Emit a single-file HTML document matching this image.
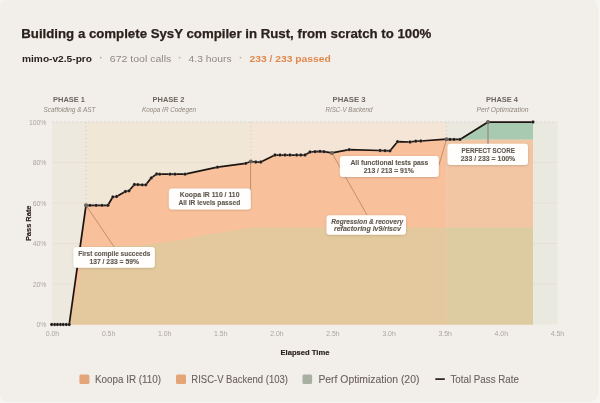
<!DOCTYPE html>
<html><head><meta charset="utf-8"><style>
html,body{margin:0;padding:0;width:600px;height:403px;overflow:hidden;background:#f2efea;}
svg{display:block;font-family:"Liberation Sans", sans-serif;will-change:transform;}
</style></head><body>
<svg width="600" height="403" viewBox="0 0 600 403">
<defs>
<filter id="sh" x="-10%" y="-20%" width="120%" height="150%"><feDropShadow dx="0" dy="0.6" stdDeviation="0.8" flood-color="#000" flood-opacity="0.18"/></filter>
</defs>
<rect x="0" y="0" width="600" height="403" fill="#f7f5f1"/>
<rect x="-0.5" y="-0.5" width="598.5" height="402" rx="8" fill="#f2efea"/>
<line x1="597.6" y1="8" x2="597.6" y2="394" stroke="#ebe7e1" stroke-width="0.8"/>
<!-- title -->
<text x="21.3" y="37.5" font-size="13.2" font-weight="bold" fill="#2b211b" stroke="#2b211b" stroke-width="0.25" textLength="410" lengthAdjust="spacingAndGlyphs">Building a complete SysY compiler in Rust, from scratch to 100%</text>
<text x="22" y="62" font-size="9.9" font-weight="bold" fill="#2b211b" textLength="70" lengthAdjust="spacingAndGlyphs">mimo-v2.5-pro</text>
<circle cx="100.8" cy="57.6" r="0.9" fill="#b5afa7"/>
<text x="109.8" y="62" font-size="9.9" fill="#8f8981" textLength="61.5" lengthAdjust="spacingAndGlyphs">672 tool calls</text>
<circle cx="179.6" cy="57.6" r="0.9" fill="#b5afa7"/>
<text x="188.6" y="62" font-size="9.9" fill="#8f8981" textLength="43" lengthAdjust="spacingAndGlyphs">4.3 hours</text>
<circle cx="240.5" cy="57.6" r="0.9" fill="#b5afa7"/>
<text x="249.5" y="62" font-size="9.9" font-weight="bold" fill="#e0874d" textLength="81.2" lengthAdjust="spacingAndGlyphs">233 / 233 passed</text>

<!-- phase labels -->
<g font-size="6.6" font-weight="bold" fill="#6e655c" text-anchor="middle">
<text x="69" y="102" textLength="32" lengthAdjust="spacingAndGlyphs">PHASE 1</text>
<text x="168.5" y="102" textLength="32" lengthAdjust="spacingAndGlyphs">PHASE 2</text>
<text x="349" y="102" textLength="33" lengthAdjust="spacingAndGlyphs">PHASE 3</text>
<text x="502" y="102" textLength="32" lengthAdjust="spacingAndGlyphs">PHASE 4</text>
</g>
<g font-size="6.3" font-style="italic" fill="#8f877e" text-anchor="middle">
<text x="69.5" y="111.5" textLength="52" lengthAdjust="spacingAndGlyphs">Scaffolding &amp; AST</text>
<text x="169" y="111.5" textLength="54" lengthAdjust="spacingAndGlyphs">Koopa IR Codegen</text>
<text x="349" y="111.5" textLength="47" lengthAdjust="spacingAndGlyphs">RISC-V Backend</text>
<text x="502.5" y="111.5" textLength="52" lengthAdjust="spacingAndGlyphs">Perf Optimization</text>
</g>

<!-- phase bands -->
<rect x="52" y="122" width="34" height="202.5" fill="#eee9de"/>
<rect x="86" y="122" width="165" height="202.5" fill="#f0e7d6"/>
<rect x="251" y="122" width="195.5" height="202.5" fill="#f5e5d6"/>
<rect x="446.5" y="122" width="111" height="202.5" fill="#e9e9e0"/>

<!-- gridlines -->
<g stroke="#e2dcd2" stroke-width="0.6">
<line x1="52" y1="284.0" x2="557.5" y2="284.0"/>
<line x1="52" y1="243.5" x2="557.5" y2="243.5"/>
<line x1="52" y1="203.0" x2="557.5" y2="203.0"/>
<line x1="52" y1="162.5" x2="557.5" y2="162.5"/>
</g>
<line x1="52" y1="122" x2="557.5" y2="122" stroke="#d8d2c8" stroke-width="0.7" stroke-dasharray="2.5,1.5"/>

<!-- phase boundaries -->
<g stroke="#c4bbb0" stroke-width="0.6" stroke-dasharray="1.2,2.8">
<line x1="86" y1="122" x2="86" y2="324.5"/>
<line x1="251" y1="122" x2="251" y2="324.5"/>
<line x1="446.5" y1="122" x2="446.5" y2="324.5"/>
</g>

<!-- areas -->
<clipPath id="cA"><rect x="0" y="0" width="446.5" height="403"/></clipPath>
<clipPath id="cB"><rect x="446.5" y="0" width="200" height="403"/></clipPath>
<g clip-path="url(#cA)">
<path d="M69.2,324.5 L86,205.3 L90,205.3 L96.1,205.3 L102,205.3 L107.9,205.3 L112.9,196.8 L116.6,196.5 L125.4,191.5 L129,190.8 L134.4,184.5 L137.9,184.6 L142.3,184.8 L145.8,184.8 L151.3,177.9 L156.7,174 L159.7,174.2 L170,174.2 L175,174.2 L185,174.2 L217.5,167.2 L245.8,163.3 L250.8,161.5 L255.8,162 L260.8,162 L275,155 L280,155 L285,155 L290,155 L296.7,155 L300.8,155 L305,155 L310,152 L315,151.7 L320,151.3 L324,151.7 L331.9,152.9 L349.2,149.7 L380,150.5 L385,150.7 L390,150.8 L397.5,141.7 L410,142 L415.8,141.2 L420.8,141 L446.5,139.2 L450,139.4 L454,139.4 L460,139.4 L533,139.4 L533,324.5 Z" fill="#f8c09b"/>
<path d="M69.5,324.5 L86,247 L140,245.2 L155,243.8 L180,240 L205,235 L230,231 L251,227.6 L533,227.6 L533,324.5 Z" fill="#e3c99d"/>
</g>
<g clip-path="url(#cB)">
<path d="M69.2,324.5 L86,205.3 L90,205.3 L96.1,205.3 L102,205.3 L107.9,205.3 L112.9,196.8 L116.6,196.5 L125.4,191.5 L129,190.8 L134.4,184.5 L137.9,184.6 L142.3,184.8 L145.8,184.8 L151.3,177.9 L156.7,174 L159.7,174.2 L170,174.2 L175,174.2 L185,174.2 L217.5,167.2 L245.8,163.3 L250.8,161.5 L255.8,162 L260.8,162 L275,155 L280,155 L285,155 L290,155 L296.7,155 L300.8,155 L305,155 L310,152 L315,151.7 L320,151.3 L324,151.7 L331.9,152.9 L349.2,149.7 L380,150.5 L385,150.7 L390,150.8 L397.5,141.7 L410,142 L415.8,141.2 L420.8,141 L446.5,139.2 L450,139.4 L454,139.4 L460,139.4 L533,139.4 L533,324.5 Z" fill="#f2c6a3"/>
<path d="M69.5,324.5 L86,247 L140,245.2 L155,243.8 L180,240 L205,235 L230,231 L251,227.6 L533,227.6 L533,324.5 Z" fill="#ddcca1"/>
</g>
<path d="M460,139.4 L488,122 L533,122 L533,139.4 Z" fill="#a8cab0"/>

<!-- connectors -->
<g stroke="#8a5a3a" stroke-width="0.6" opacity="0.8">
<line x1="86" y1="205.3" x2="114.2" y2="247"/>
<line x1="250.6" y1="161.5" x2="250.6" y2="199"/>
<line x1="331.9" y1="152.9" x2="367" y2="215"/>
<line x1="446.5" y1="139.2" x2="439" y2="165"/>
</g>
<line x1="488" y1="122" x2="488" y2="144" stroke="#9a9088" stroke-width="1.4"/>

<!-- total line -->
<path d="M51.7,324.5 L69.2,324.5" stroke="#1c1511" stroke-width="0.7"/>
<path d="M69.2,324.5 L86,205.3 L90,205.3 L96.1,205.3 L102,205.3 L107.9,205.3 L112.9,196.8 L116.6,196.5 L125.4,191.5 L129,190.8 L134.4,184.5 L137.9,184.6 L142.3,184.8 L145.8,184.8 L151.3,177.9 L156.7,174 L159.7,174.2 L170,174.2 L175,174.2 L185,174.2 L217.5,167.2 L245.8,163.3 L250.8,161.5 L255.8,162 L260.8,162 L275,155 L280,155 L285,155 L290,155 L296.7,155 L300.8,155 L305,155 L310,152 L315,151.7 L320,151.3 L324,151.7 L331.9,152.9 L349.2,149.7 L380,150.5 L385,150.7 L390,150.8 L397.5,141.7 L410,142 L415.8,141.2 L420.8,141 L446.5,139.2 L450,139.4 L454,139.4 L460,139.4 L488,122 L533,122" fill="none" stroke="#1c1511" stroke-width="1.75" stroke-linejoin="round"/>
<g fill="#1c1511" stroke="#ffffff" stroke-opacity="0.35" stroke-width="0.6"><circle cx="51.7" cy="324.5" r="1.65"/><circle cx="54.7" cy="324.5" r="1.65"/><circle cx="57.5" cy="324.5" r="1.65"/><circle cx="60.5" cy="324.5" r="1.65"/><circle cx="63.3" cy="324.5" r="1.65"/><circle cx="66.3" cy="324.5" r="1.65"/><circle cx="69.2" cy="324.5" r="1.65"/><circle cx="90" cy="205.3" r="1.65"/><circle cx="96.1" cy="205.3" r="1.65"/><circle cx="102" cy="205.3" r="1.65"/><circle cx="107.9" cy="205.3" r="1.65"/><circle cx="112.9" cy="196.8" r="1.65"/><circle cx="116.6" cy="196.5" r="1.65"/><circle cx="125.4" cy="191.5" r="1.65"/><circle cx="129" cy="190.8" r="1.65"/><circle cx="134.4" cy="184.5" r="1.65"/><circle cx="137.9" cy="184.6" r="1.65"/><circle cx="142.3" cy="184.8" r="1.65"/><circle cx="145.8" cy="184.8" r="1.65"/><circle cx="151.3" cy="177.9" r="1.65"/><circle cx="156.7" cy="174" r="1.65"/><circle cx="159.7" cy="174.2" r="1.65"/><circle cx="170" cy="174.2" r="1.65"/><circle cx="175" cy="174.2" r="1.65"/><circle cx="185" cy="174.2" r="1.65"/><circle cx="217.5" cy="167.2" r="1.65"/><circle cx="245.8" cy="163.3" r="1.65"/><circle cx="255.8" cy="162" r="1.65"/><circle cx="260.8" cy="162" r="1.65"/><circle cx="275" cy="155" r="1.65"/><circle cx="280" cy="155" r="1.65"/><circle cx="285" cy="155" r="1.65"/><circle cx="290" cy="155" r="1.65"/><circle cx="296.7" cy="155" r="1.65"/><circle cx="300.8" cy="155" r="1.65"/><circle cx="305" cy="155" r="1.65"/><circle cx="310" cy="152" r="1.65"/><circle cx="315" cy="151.7" r="1.65"/><circle cx="320" cy="151.3" r="1.65"/><circle cx="324" cy="151.7" r="1.65"/><circle cx="349.2" cy="149.7" r="1.65"/><circle cx="380" cy="150.5" r="1.65"/><circle cx="385" cy="150.7" r="1.65"/><circle cx="390" cy="150.8" r="1.65"/><circle cx="397.5" cy="141.7" r="1.65"/><circle cx="410" cy="142" r="1.65"/><circle cx="415.8" cy="141.2" r="1.65"/><circle cx="420.8" cy="141" r="1.65"/><circle cx="450" cy="139.4" r="1.65"/><circle cx="454" cy="139.4" r="1.65"/><circle cx="460" cy="139.4" r="1.65"/><circle cx="533" cy="122" r="1.65"/></g>
<circle cx="86" cy="205.3" r="2" fill="#6a625c"/><circle cx="250.8" cy="161.5" r="2" fill="#6a625c"/><circle cx="331.9" cy="152.9" r="2" fill="#6a625c"/><circle cx="446.5" cy="139.2" r="2" fill="#6a625c"/><circle cx="488" cy="122" r="2" fill="#6a625c"/>

<!-- axes labels -->
<g font-size="6.9" fill="#aba59d" text-anchor="end">
<text x="46.5" y="124.7">100%</text>
<text x="46.5" y="165">80%</text>
<text x="46.5" y="205.5">60%</text>
<text x="46.5" y="246">40%</text>
<text x="46.5" y="286.5">20%</text>
<text x="46.5" y="327">0%</text>
</g>
<g font-size="6.9" fill="#aba59d" text-anchor="middle">
<text x="52.5" y="336.2">0.0h</text>
<text x="108.6" y="336.2">0.5h</text>
<text x="164.7" y="336.2">1.0h</text>
<text x="220.8" y="336.2">1.5h</text>
<text x="276.9" y="336.2">2.0h</text>
<text x="333.0" y="336.2">2.5h</text>
<text x="389.1" y="336.2">3.0h</text>
<text x="445.2" y="336.2">3.5h</text>
<text x="501.3" y="336.2">4.0h</text>
<text x="557.4" y="336.2">4.5h</text>
</g>
<text transform="translate(30.6,223.3) rotate(-90)" font-size="8" font-weight="bold" fill="#2b211b" stroke="#2b211b" stroke-width="0.15" text-anchor="middle" textLength="35.6" lengthAdjust="spacingAndGlyphs">Pass Rate</text>
<text x="305" y="355.3" font-size="7.6" font-weight="bold" fill="#2b211b" stroke="#2b211b" stroke-width="0.15" text-anchor="middle" textLength="49" lengthAdjust="spacingAndGlyphs">Elapsed Time</text>

<!-- annotation boxes -->
<g filter="url(#sh)" fill="#fffefc">
<rect x="73.4" y="247.1" width="81.5" height="20.6" rx="3"/>
<rect x="168.9" y="188.6" width="81.9" height="20.9" rx="3"/>
<rect x="326.5" y="215.2" width="79.5" height="19.5" rx="3"/>
<rect x="339.9" y="155.9" width="98.9" height="21.2" rx="3"/>
<rect x="447.5" y="143.7" width="80.5" height="21.3" rx="3"/>
</g>
<g font-size="6.9" font-weight="bold" fill="#605850" stroke="#605850" stroke-width="0.12" text-anchor="middle">
<text x="114.3" y="256" textLength="72" lengthAdjust="spacingAndGlyphs">First compile succeeds</text>
<text x="114.2" y="264.1" textLength="49.5" lengthAdjust="spacingAndGlyphs">137 / 233 = 59%</text>
<text x="209.6" y="197" textLength="59.8" lengthAdjust="spacingAndGlyphs">Koopa IR 110 / 110</text>
<text x="209.3" y="205.1" textLength="61.8" lengthAdjust="spacingAndGlyphs">All IR levels passed</text>
<text x="389.4" y="165.3" textLength="78" lengthAdjust="spacingAndGlyphs">All functional tests pass</text>
<text x="388.8" y="173.2" textLength="50" lengthAdjust="spacingAndGlyphs">213 / 213 = 91%</text>
<text x="488.2" y="152.5" textLength="53.3" lengthAdjust="spacingAndGlyphs">PERFECT SCORE</text>
<text x="488" y="161.2" textLength="54.5" lengthAdjust="spacingAndGlyphs">233 / 233 = 100%</text>
</g>
<g font-size="6.9" font-weight="bold" font-style="italic" fill="#605850" stroke="#605850" stroke-width="0.12" text-anchor="middle">
<text x="367.2" y="223.5" textLength="72" lengthAdjust="spacingAndGlyphs">Regression &amp; recovery</text>
<text x="367.4" y="231" textLength="67" lengthAdjust="spacingAndGlyphs">refactoring lv9/riscv</text>
</g>

<!-- legend -->
<rect x="79.4" y="374.5" width="10" height="9.6" rx="1.5" fill="#e2a679"/>
<text x="95" y="383" font-size="10.4" fill="#6b625a" stroke="#6b625a" stroke-width="0.1" textLength="66" lengthAdjust="spacingAndGlyphs">Koopa IR (110)</text>
<rect x="176" y="374.5" width="10" height="9.6" rx="1.5" fill="#e3a476"/>
<text x="191.3" y="383" font-size="10.4" fill="#6b625a" stroke="#6b625a" stroke-width="0.1" textLength="96.6" lengthAdjust="spacingAndGlyphs">RISC-V Backend (103)</text>
<rect x="302.5" y="374.5" width="9.6" height="9.6" rx="1.5" fill="#a7b0a3"/>
<text x="318.4" y="383" font-size="10.4" fill="#6b625a" stroke="#6b625a" stroke-width="0.1" textLength="101" lengthAdjust="spacingAndGlyphs">Perf Optimization (20)</text>
<rect x="435.3" y="378.2" width="9.5" height="1.8" fill="#3a2a20"/>
<text x="450.4" y="383" font-size="10.4" fill="#6b625a" stroke="#6b625a" stroke-width="0.1" textLength="68.6" lengthAdjust="spacingAndGlyphs">Total Pass Rate</text>
</svg>
</body></html>
